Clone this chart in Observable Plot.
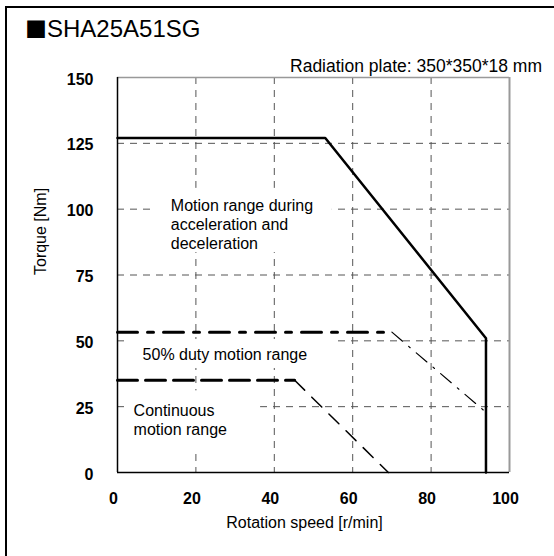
<!DOCTYPE html>
<html>
<head>
<meta charset="utf-8">
<script src="https://cdn.jsdelivr.net/npm/d3@7"></script>
<script src="https://cdn.jsdelivr.net/npm/@observablehq/plot@0.6"></script>
<style>
  html, body { margin: 0; padding: 0; background: #fff; }
  #wrap { position: relative; width: 554px; height: 556px; overflow: hidden; background: #fff;
          font-family: "Liberation Sans", Arial, sans-serif; }
  #frame { position: absolute; left: 5px; top: 6px; width: 700px; height: 700px;
           border-top: 2px solid #000; border-left: 2px solid #000; }
  #title { position: absolute; left: 25px; top: 16px; font-size: 24px; line-height: 1; color: #000; white-space: nowrap; }
  #title .sq { font-family: "Noto Sans CJK JP", "DejaVu Sans", sans-serif; font-size: 22px; line-height: 1; }
  #sub { position: absolute; right: 12px; top: 56px; font-size: 17.5px; color: #000; white-space: nowrap; }
  #chart { position: absolute; left: 0; top: 0; }
</style>
</head>
<body>
<div id="wrap">
  <div id="frame"></div>
  <div id="chart"></div>
  <div id="title"><span class="sq">■</span>SHA25A51SG</div>
  <div id="sub">Radiation plate: 350*350*18 mm</div>
</div>
<script>
// ---- data ----
const xTicks = [0, 20, 40, 60, 80, 100];
const yTicks = [0, 25, 50, 75, 100, 125, 150];
const xLabel = "Rotation speed [r/min]";
const yLabel = "Torque [Nm]";

// Motion range during acceleration and deceleration (solid)
const accelSpeed  = [0, 53, 94, 94];
const accelTorque = [127, 127, 51, 0];

// 50% duty motion range (dash-dot)
const dutyFlatSpeed   = [0, 70];
const dutyFlatTorque  = [53.3, 53.3];
const dutySlopeSpeed  = [70, 93.5];
const dutySlopeTorque = [53.3, 23.5];

// Continuous motion range (dashed)
const contFlatSpeed   = [0, 45.2];
const contFlatTorque  = [35, 35];
const contSlopeSpeed  = [45.2, 69.1];
const contSlopeTorque = [35, 0];

// annotations
const annoText  = ["Motion range during\nacceleration and\ndeceleration", "50% duty motion range", "Continuous\nmotion range"];
const annoX     = [13.6, 6.4, 4.1];
const annoY     = [94.5, 45.1, 20.1];
// white boxes behind annotations (gridlines are interrupted there)
const boxX1 = [8.5, 2.2, 2.4];
const boxX2 = [54.8, 56.1, 36.5];
const boxY1 = [83.5, 39.5, 8.4];
const boxY2 = [107.9, 50.5, 31];

const pts = (xs, ys) => xs.map((x, i) => ({x, y: ys[i]}));
const annos = annoText.map((t, i) => ({t, x: annoX[i], y: annoY[i]}));
const boxes = boxX1.map((x1, i) => ({x1, x2: boxX2[i], y1: boxY1[i], y2: boxY2[i]}));

const FONT = "Liberation Sans, Arial, sans-serif";

const chart = Plot.plot({
  width: 554,
  height: 556,
  marginLeft: 117,
  marginRight: 45,
  marginTop: 77,
  marginBottom: 84,
  style: {fontFamily: FONT, background: "transparent", overflow: "visible"},
  x: {domain: [0, 100]},
  y: {domain: [0, 150]},
  marks: [
    Plot.gridX([20, 40, 60, 80], {stroke: "#555", strokeOpacity: 1, strokeWidth: 1, strokeDasharray: "7,6"}),
    Plot.gridY([25, 50, 75, 100, 125], {stroke: "#555", strokeOpacity: 1, strokeWidth: 1, strokeDasharray: "7,6"}),
    Plot.rect(boxes, {x1: "x1", x2: "x2", y1: "y1", y2: "y2", fill: "white"}),
    Plot.ruleY([150], {stroke: "#999", strokeWidth: 1.5}),
    Plot.ruleX([100], {stroke: "#999", strokeWidth: 2}),
    Plot.ruleX([0], {stroke: "#000", strokeWidth: 1.5}),
    Plot.ruleY([0], {stroke: "#000", strokeWidth: 1.5}),
    Plot.axisX({ticks: xTicks, tickSize: 0, tickPadding: 20, dx: -4, fontSize: 16, fontWeight: "bold", label: null, fontFamily: FONT}),
    Plot.axisY({ticks: yTicks, tickSize: 0, tickPadding: 24, dy: 2, fontSize: 16, fontWeight: "bold", label: null, fontFamily: FONT}),
    Plot.text([yLabel], {frameAnchor: "left", dx: -77, rotate: -90, fontSize: 16, fontFamily: FONT, fill: "#000"}),
    Plot.text([xLabel], {frameAnchor: "bottom", dy: 55, dx: -9, fontSize: 16, fontFamily: FONT, fill: "#000"}),
    // curves
    Plot.line(pts(contSlopeSpeed, contSlopeTorque), {x: "x", y: "y", stroke: "#000", strokeWidth: 1.5, strokeDasharray: "14,10"}),
    Plot.line(pts(dutySlopeSpeed, dutySlopeTorque), {x: "x", y: "y", stroke: "#000", strokeWidth: 1.2, strokeDasharray: "14,8,2,8"}),
    Plot.line(pts(contFlatSpeed, contFlatTorque), {x: "x", y: "y", stroke: "#000", strokeWidth: 3, strokeDasharray: "20,8"}),
    Plot.line(pts(dutyFlatSpeed, dutyFlatTorque), {x: "x", y: "y", stroke: "#000", strokeWidth: 3, strokeDasharray: "20,10,6,10"}),
    Plot.line(pts(accelSpeed, accelTorque), {x: "x", y: "y", stroke: "#000", strokeWidth: 2.5}),
    Plot.text(annos, {x: "x", y: "y", text: "t", textAnchor: "start", lineHeight: 1.2, fontSize: 16, fontFamily: FONT, fill: "#000"})
  ]
});
document.getElementById("chart").appendChild(chart);
</script>
</body>
</html>
